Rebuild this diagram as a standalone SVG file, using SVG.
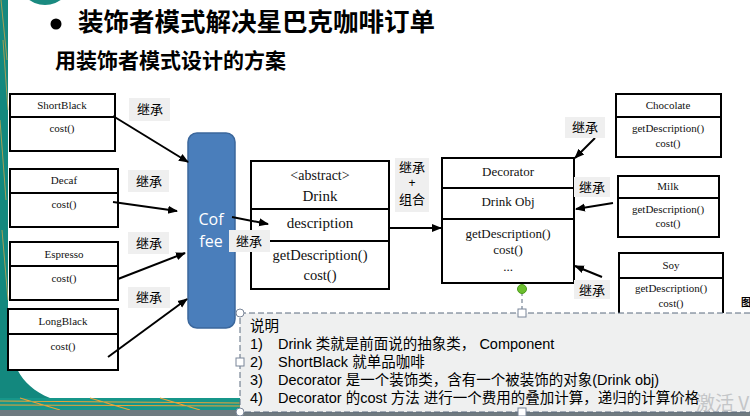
<svg xmlns="http://www.w3.org/2000/svg" width="750" height="416" viewBox="0 0 750 416">
<style>
.box{fill:#fff;stroke:#000;stroke-width:2}
.div{stroke:#000;stroke-width:2}
.tm{font-family:"Liberation Serif","Times New Roman",serif;fill:#111;text-anchor:middle}
.lb{fill:#efefef}
.lt{font-family:"Noto Sans CJK SC",sans-serif;font-size:13px;fill:#000;text-anchor:middle}
.con{stroke:#000;stroke-width:2;fill:none;marker-end:url(#ah)}
.nt{font-family:"Liberation Sans","Noto Sans CJK SC",sans-serif;font-size:14.5px;fill:#000}
.hd{fill:#fff;stroke:#7a8699;stroke-width:1}
</style>
<defs>
<marker id="ah" viewBox="0 0 10 10" refX="9" refY="5" markerWidth="5" markerHeight="5" orient="auto"><path d="M0,1 L10,5 L0,9 z" fill="#000"/></marker>
</defs>
<rect width="750" height="416" fill="#fff"/>
<!-- background decorations -->
<g id="bg">
<rect x="0" y="0" width="8" height="416" fill="#13887e"/>
<path d="M1,0 L7,60 M3,40 L8,110 M0,120 L6,200 M2,230 L8,300" stroke="#c9a34a" stroke-width="0.8" fill="none"/>
<circle cx="45" cy="-22" r="27" fill="#1a8a80"/>
<path d="M0,330 L9,330 C10,360 18,385 50,398 L240,398 L240,416 L0,416 Z" fill="#13887e"/>
<rect x="0" y="398" width="240" height="12" fill="#17968a"/>
<path d="M0,401 L240,403 M0,405 L240,406 M20,398 L60,410 M90,398 L130,410 M160,398 L200,410" stroke="#e8a33a" stroke-width="1.2" fill="none"/>
<rect x="0" y="410" width="750" height="6" fill="#6f7a80"/>
</g>
<!-- titles -->
<g id="title">
<circle cx="56" cy="24" r="5.5" fill="#000"/>
<text x="78" y="31" font-family="Noto Sans CJK SC,sans-serif" font-size="25.5" font-weight="700" fill="#000">装饰者模式解决星巴克咖啡订单</text>
<text x="55" y="68" font-family="Noto Sans CJK SC,sans-serif" font-size="21" font-weight="700" fill="#000">用装饰者模式设计的方案</text>
</g>
<!-- left concrete drinks -->
<g id="ShortBlack">
<rect class="box" x="10" y="94" width="105" height="57"/><line class="div" x1="10" y1="117" x2="115" y2="117"/>
<text class="tm" x="62" y="109" font-size="11">ShortBlack</text><text class="tm" x="62" y="132" font-size="11">cost()</text>
</g>
<g id="Decaf">
<rect class="box" x="10" y="169" width="108" height="58"/><line class="div" x1="10" y1="193" x2="118" y2="193"/>
<text class="tm" x="64" y="184" font-size="11">Decaf</text><text class="tm" x="64" y="208" font-size="11">cost()</text>
</g>
<g id="Espresso">
<rect class="box" x="10" y="242" width="108" height="58"/><line class="div" x1="10" y1="266" x2="118" y2="266"/>
<text class="tm" x="64" y="258" font-size="11">Espresso</text><text class="tm" x="64" y="282" font-size="11">cost()</text>
</g>
<g id="LongBlack">
<rect class="box" x="8" y="309" width="110" height="61"/><line class="div" x1="8" y1="334" x2="118" y2="334"/>
<text class="tm" x="63" y="325" font-size="11">LongBlack</text><text class="tm" x="63" y="350" font-size="11">cost()</text>
</g>
<!-- Coffee -->
<g id="Coffee">
<rect x="188" y="133" width="47" height="195" rx="9" fill="#4a7ebb" stroke="#3b679c" stroke-width="1.5"/>
<text x="211" y="225" font-family="Open Sans,sans-serif" font-size="16" fill="#fff" text-anchor="middle">Cof</text>
<text x="211" y="247" font-family="Open Sans,sans-serif" font-size="16" fill="#fff" text-anchor="middle">fee</text>
</g>
<!-- Drink -->
<g id="Drink">
<rect class="box" x="251" y="161" width="138" height="128"/>
<line class="div" x1="251" y1="209" x2="389" y2="209"/><line class="div" x1="251" y1="241" x2="389" y2="241"/>
<text class="tm" x="320" y="180" font-size="14">&lt;abstract&gt;</text>
<text class="tm" x="320" y="201" font-size="15">Drink</text>
<text class="tm" x="320" y="228" font-size="15">description</text>
<text class="tm" x="320" y="260" font-size="14.5">getDescription()</text>
<text class="tm" x="320" y="280" font-size="14.5">cost()</text>
</g>
<!-- Decorator -->
<g id="Decorator">
<rect class="box" x="442" y="158" width="132" height="125"/>
<line class="div" x1="442" y1="188" x2="574" y2="188"/><line class="div" x1="442" y1="219" x2="574" y2="219"/>
<text class="tm" x="508" y="176" font-size="13">Decorator</text>
<text class="tm" x="508" y="206" font-size="13">Drink Obj</text>
<text class="tm" x="508" y="238" font-size="13">getDescription()</text>
<text class="tm" x="508" y="254" font-size="13">cost()</text>
<text class="tm" x="508" y="271" font-size="13">...</text>
</g>
<!-- right decorators -->
<g id="Chocolate">
<rect class="box" x="616" y="94" width="105" height="63"/><line class="div" x1="616" y1="117" x2="721" y2="117"/>
<text class="tm" x="668" y="109" font-size="11">Chocolate</text>
<text class="tm" x="668" y="132" font-size="11">getDescription()</text><text class="tm" x="668" y="147" font-size="11">cost()</text>
</g>
<g id="Milk">
<rect class="box" x="618" y="176" width="101" height="61"/><line class="div" x1="618" y1="198" x2="719" y2="198"/>
<text class="tm" x="668" y="190" font-size="11">Milk</text>
<text class="tm" x="668" y="213" font-size="11">getDescription()</text><text class="tm" x="668" y="227" font-size="11">cost()</text>
</g>
<g id="Soy">
<rect class="box" x="619" y="253" width="104" height="64"/><line class="div" x1="619" y1="278" x2="723" y2="278"/>
<text class="tm" x="671" y="269" font-size="11">Soy</text>
<text class="tm" x="671" y="292" font-size="11">getDescription()</text><text class="tm" x="671" y="307" font-size="11">cost()</text>
</g>
<text x="741" y="306" font-family="Noto Sans CJK SC,sans-serif" font-size="10" font-weight="700" fill="#000">图</text>
<!-- connectors -->
<g id="connectors">
<line class="con" x1="113" y1="116" x2="188" y2="162"/>
<line class="con" x1="113" y1="202" x2="177" y2="211"/>
<line class="con" x1="118" y1="279" x2="185" y2="253"/>
<line class="con" x1="108" y1="357" x2="187" y2="299"/>
<line class="con" x1="232" y1="217" x2="268" y2="224"/>
<line class="con" x1="389" y1="228" x2="441" y2="228"/>
<line class="con" x1="595" y1="138" x2="575" y2="158"/>
<line class="con" x1="613" y1="203" x2="576" y2="209"/>
<line class="con" x1="602" y1="277" x2="575" y2="266"/>
</g>
<!-- labels -->
<g id="labels">
<rect class="lb" x="129" y="98" width="41" height="23"/><text class="lt" x="150" y="114">继承</text>
<rect class="lb" x="128" y="170" width="41" height="22"/><text class="lt" x="149" y="186">继承</text>
<rect class="lb" x="128" y="232" width="41" height="22"/><text class="lt" x="149" y="248">继承</text>
<rect class="lb" x="128" y="287" width="42" height="21"/><text class="lt" x="149" y="302">继承</text>
<rect class="lb" x="229" y="230" width="41" height="22"/><text class="lt" x="249" y="246">继承</text>
<rect class="lb" x="395" y="158" width="34" height="54"/>
<text class="lt" x="412" y="172" font-size="12">继承</text>
<text x="412" y="187" font-family="Liberation Sans,sans-serif" font-size="12" text-anchor="middle" fill="#000">+</text>
<text class="lt" x="412" y="204" font-size="12">组合</text>
<rect class="lb" x="565" y="117" width="40" height="21"/><text class="lt" x="585" y="132">继承</text>
<rect class="lb" x="574" y="177" width="36" height="20"/><text class="lt" x="592" y="192">继承</text>
<rect class="lb" x="574" y="280" width="36" height="19"/><text class="lt" x="592" y="295">继承</text>
</g>
<!-- note -->
<g id="note">
<rect x="240" y="313" width="514" height="99" fill="#eff0f0" stroke="#5b6a7e" stroke-width="1" stroke-dasharray="6,3"/>
<line x1="522" y1="292" x2="522" y2="313" stroke="#5b6a7e" stroke-width="1" stroke-dasharray="4,3"/>
<circle cx="522" cy="289" r="4.5" fill="#6cbf2e" stroke="#4c9a1c" stroke-width="1"/>
<circle class="hd" cx="240" cy="313" r="4"/>
<rect class="hd" x="518" y="309" width="8" height="8"/>
<rect class="hd" x="236" y="358" width="8" height="8"/>
<circle class="hd" cx="240" cy="412" r="4"/>
<rect class="hd" x="518" y="408" width="8" height="8"/>
<text class="nt" x="250" y="331">说明</text>
<text class="nt" x="250" y="349">1)</text><text class="nt" x="278" y="349">Drink 类就是前面说的抽象类， Component</text>
<text class="nt" x="250" y="367">2)</text><text class="nt" x="278" y="367">ShortBlack 就单品咖啡</text>
<text class="nt" x="250" y="385">3)</text><text class="nt" x="278" y="385">Decorator 是一个装饰类，含有一个被装饰的对象(Drink obj)</text>
<text class="nt" x="250" y="403">4)</text><text class="nt" x="278" y="403">Decorator 的cost 方法 进行一个费用的叠加计算，递归的计算价格</text>
<text x="696" y="410" font-family="Noto Sans CJK SC,sans-serif" font-size="19" fill="#c4c6c8">激活 V</text>
</g>
</svg>
